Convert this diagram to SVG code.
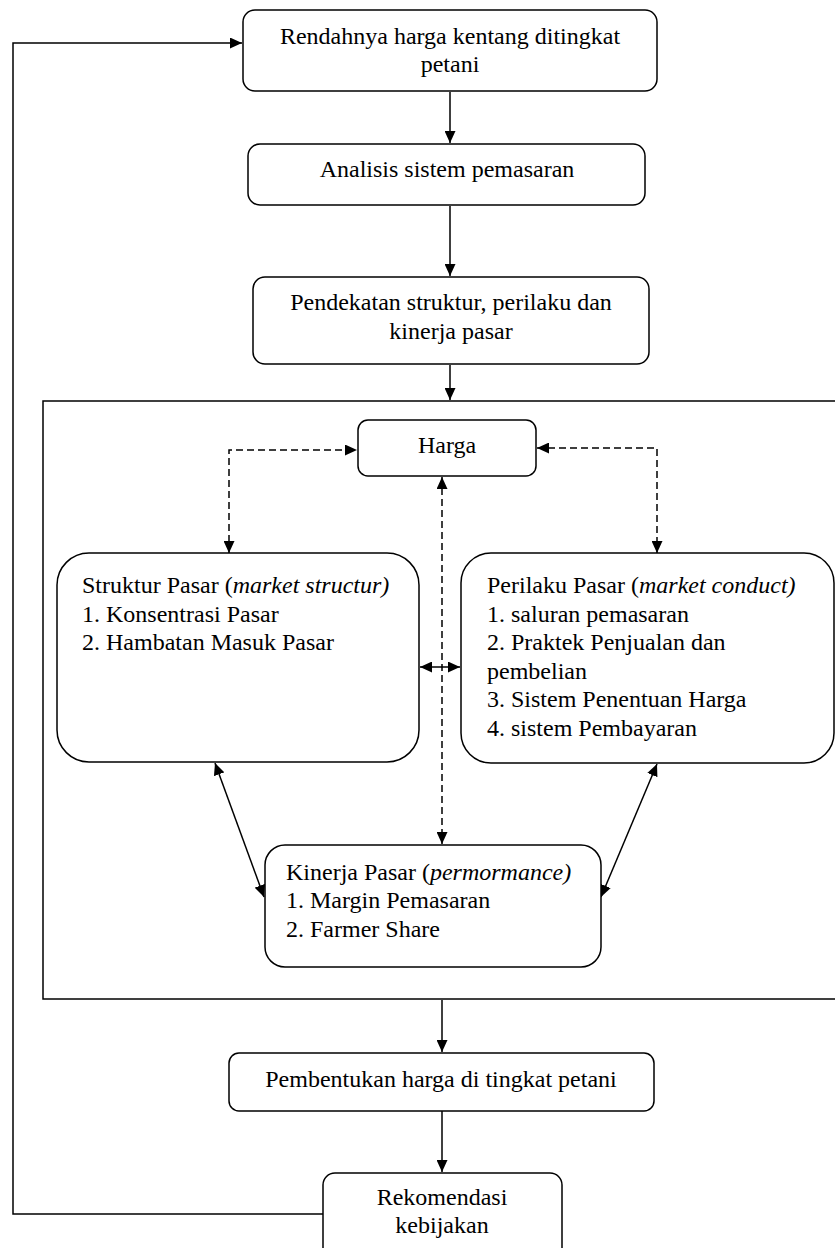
<svg xmlns="http://www.w3.org/2000/svg" width="835" height="1248" viewBox="0 0 835 1248">
<style>
.box{fill:#fff;stroke:#000;stroke-width:1.5}
.frame{fill:none;stroke:#000;stroke-width:1.5}
.t{font-family:'Liberation Serif',serif;font-size:24px;fill:#000}
.c{text-anchor:middle}
.i{font-style:italic}
.ln{fill:none;stroke:#000;stroke-width:1.5}
.dash{fill:none;stroke:#000;stroke-width:1.5;stroke-dasharray:7 4}
</style>
<defs>
<marker id="ah" viewBox="0 0 12 11" refX="12" refY="5.5" markerWidth="12" markerHeight="11" markerUnits="userSpaceOnUse" orient="auto-start-reverse">
<path d="M0,0 L12,5.5 L0,11 Z" fill="#000"/>
</marker>
</defs>
<rect id="outer-frame" class="frame" x="43" y="401" width="800" height="598"/>
<g id="connectors">
<polyline class="ln" points="323,1214 13,1214 13,43 242,43" marker-end="url(#ah)"/>
<line class="ln" x1="450" y1="92" x2="450" y2="143" marker-end="url(#ah)"/>
<line class="ln" x1="450" y1="206" x2="450" y2="276" marker-end="url(#ah)"/>
<line class="ln" x1="450" y1="365" x2="450" y2="400" marker-end="url(#ah)"/>
<polyline class="dash" points="229,553 229,450 357,450" marker-start="url(#ah)" marker-end="url(#ah)"/>
<polyline class="dash" points="537,448 657,448 657,553" marker-start="url(#ah)" marker-end="url(#ah)"/>
<line class="dash" x1="442" y1="477" x2="442" y2="844" marker-start="url(#ah)" marker-end="url(#ah)"/>
<line class="ln" x1="420" y1="667" x2="460" y2="667" marker-start="url(#ah)" marker-end="url(#ah)"/>
<line class="ln" x1="215" y1="763" x2="264" y2="897" marker-start="url(#ah)" marker-end="url(#ah)"/>
<line class="ln" x1="657" y1="764" x2="601" y2="897" marker-start="url(#ah)" marker-end="url(#ah)"/>
<line class="ln" x1="442" y1="1000" x2="442" y2="1052" marker-end="url(#ah)"/>
<line class="ln" x1="442" y1="1111" x2="442" y2="1172" marker-end="url(#ah)"/>
</g>
<g id="n1">
<rect class="box" x="243" y="10" width="414" height="81" rx="12"/>
<text class="t c" x="450" y="44">Rendahnya harga kentang ditingkat</text>
<text class="t c" x="450" y="72">petani</text>
</g>
<g id="n2">
<rect class="box" x="248" y="144" width="397" height="61" rx="12"/>
<text class="t c" x="447" y="177">Analisis sistem pemasaran</text>
</g>
<g id="n3">
<rect class="box" x="253" y="277" width="396" height="87" rx="12"/>
<text class="t c" x="451" y="310">Pendekatan struktur, perilaku dan</text>
<text class="t c" x="451" y="339">kinerja pasar</text>
</g>
<g id="harga">
<rect class="box" x="358" y="420" width="178" height="56" rx="10"/>
<text class="t c" x="447" y="453">Harga</text>
</g>
<g id="struktur">
<rect class="box" x="57" y="553" width="362" height="209" rx="32"/>
<text class="t" x="82" y="593">Struktur Pasar (<tspan class="i">market structur)</tspan></text>
<text class="t" x="82" y="621.5">1. Konsentrasi Pasar</text>
<text class="t" x="82" y="650">2. Hambatan Masuk Pasar</text>
</g>
<g id="perilaku">
<rect class="box" x="461" y="553" width="373" height="210" rx="30"/>
<text class="t" x="487" y="593">Perilaku Pasar (<tspan class="i">market conduct)</tspan></text>
<text class="t" x="487" y="621.5">1. saluran pemasaran</text>
<text class="t" x="487" y="650">2. Praktek Penjualan dan</text>
<text class="t" x="487" y="678.5">pembelian</text>
<text class="t" x="487" y="707">3. Sistem Penentuan Harga</text>
<text class="t" x="487" y="735.5">4. sistem Pembayaran</text>
</g>
<g id="kinerja">
<rect class="box" x="265" y="845" width="336" height="122" rx="20"/>
<text class="t" x="286" y="880">Kinerja Pasar (<tspan class="i">permormance)</tspan></text>
<text class="t" x="286" y="908">1. Margin Pemasaran</text>
<text class="t" x="286" y="937">2. Farmer Share</text>
</g>
<g id="pembentukan">
<rect class="box" x="229" y="1053" width="425" height="58" rx="10"/>
<text class="t c" x="441" y="1087">Pembentukan harga di tingkat petani</text>
</g>
<g id="rekomendasi">
<rect class="box" x="323" y="1173" width="239" height="90" rx="12"/>
<text class="t c" x="442" y="1205">Rekomendasi</text>
<text class="t c" x="442" y="1233">kebijakan</text>
</g>
</svg>
